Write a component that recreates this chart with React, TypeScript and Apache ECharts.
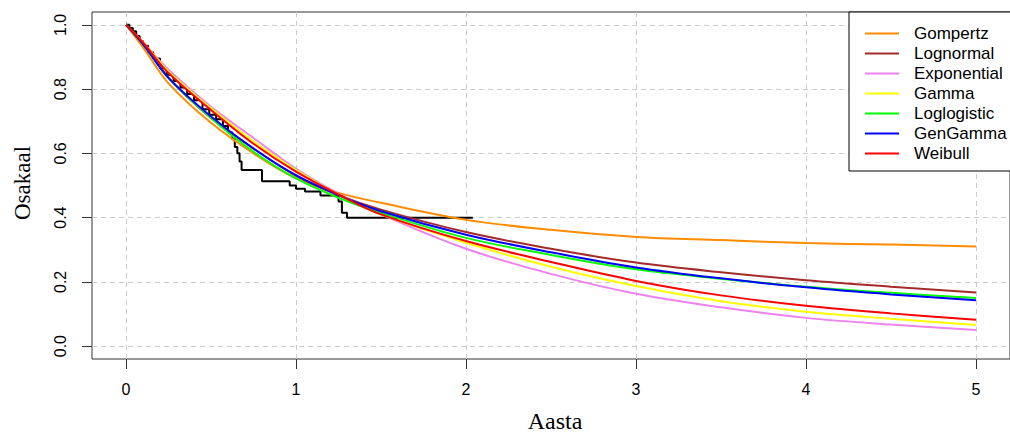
import React, { useEffect, useRef } from "react";
import * as echarts from "echarts";

// Time points (years) at which the fitted curves were read
const fitTimes = [0, 0.1, 0.25, 0.5, 0.75, 1, 1.25, 1.5, 2, 2.5, 3, 3.5, 4, 4.5, 5];

const gompertz = [1, 0.93, 0.818, 0.695, 0.6, 0.522, 0.477, 0.446, 0.393, 0.362, 0.34, 0.33, 0.321, 0.316, 0.31];
const lognormal = [1, 0.945, 0.835, 0.71, 0.615, 0.53, 0.47, 0.425, 0.355, 0.303, 0.26, 0.23, 0.205, 0.185, 0.167];
const exponential = [1, 0.945, 0.86, 0.745, 0.648, 0.552, 0.475, 0.41, 0.303, 0.225, 0.163, 0.121, 0.088, 0.067, 0.05];
const gamma = [1, 0.945, 0.855, 0.74, 0.637, 0.548, 0.472, 0.41, 0.322, 0.247, 0.187, 0.14, 0.107, 0.085, 0.066];
const loglogistic = [1, 0.94, 0.835, 0.71, 0.605, 0.522, 0.462, 0.415, 0.337, 0.284, 0.239, 0.21, 0.185, 0.166, 0.15];
const genGamma = [1, 0.94, 0.835, 0.715, 0.615, 0.532, 0.47, 0.42, 0.347, 0.292, 0.245, 0.211, 0.183, 0.161, 0.143];
const weibull = [1, 0.945, 0.85, 0.735, 0.63, 0.543, 0.472, 0.41, 0.327, 0.262, 0.203, 0.158, 0.126, 0.102, 0.082];

// Kaplan-Meier step curve
const kmTimes = [0, 0.02, 0.04, 0.06, 0.08, 0.1, 0.13, 0.16, 0.2, 0.24, 0.28, 0.32, 0.36, 0.4, 0.45, 0.49, 0.53, 0.57, 0.6, 0.626, 0.64, 0.655, 0.668, 0.68, 0.8, 0.963, 1.0, 1.053, 1.144, 1.25, 1.27, 1.3, 2.04];
const kmSurv = [1, 0.99, 0.98, 0.965, 0.95, 0.935, 0.915, 0.895, 0.865, 0.845, 0.825, 0.805, 0.785, 0.765, 0.737, 0.72, 0.706, 0.685, 0.665, 0.644, 0.62, 0.6, 0.575, 0.548, 0.513, 0.5, 0.49, 0.481, 0.469, 0.45, 0.415, 0.4, 0.4];

const xTicks = [0, 1, 2, 3, 4, 5];
const yTicks = [0, 0.2, 0.4, 0.6, 0.8, 1.0];

const modelNames = ["Gompertz", "Lognormal", "Exponential", "Gamma", "Loglogistic", "GenGamma", "Weibull"];
const modelValues = [gompertz, lognormal, exponential, gamma, loglogistic, genGamma, weibull];
const modelColors = ["#FF8C00", "#A52A2A", "#EE82EE", "#FFFF00", "#00FF00", "#0000FF", "#FF0000"];

const SANS = '"Liberation Sans", Arial, sans-serif';
const SERIF = '"Liberation Serif", "Times New Roman", serif';

export default function App() {
  const ref = useRef<HTMLDivElement>(null);

  useEffect(() => {
    document.body.style.margin = "0";
    if (!ref.current) return;
    const chart = echarts.init(ref.current, null, { renderer: "svg" });

    const kmSeries = {
      name: "KM",
      type: "line",
      step: "end",
      showSymbol: false,
      symbol: "none",
      data: kmTimes.map((t, i) => [t, kmSurv[i]]),
      lineStyle: { color: "#000", width: 2 },
      itemStyle: { color: "#000" },
      silent: true,
      z: 2,
    };

    const fitSeries = modelNames.map((name, k) => ({
      name,
      type: "line",
      showSymbol: false,
      symbol: "none",
      smooth: 0.35,
      data: fitTimes.map((t, i) => [t, modelValues[k][i]]),
      lineStyle: { color: modelColors[k], width: 2 },
      itemStyle: { color: modelColors[k] },
      silent: true,
      z: 3,
    }));

    chart.setOption({
      animation: false,
      grid: {
        left: 92,
        top: 12,
        width: 923,
        height: 347,
        show: true,
        borderColor: "#333",
        borderWidth: 1,
        backgroundColor: "transparent",
      },
      xAxis: {
        type: "value",
        min: -0.2,
        max: 5.2,
        axisLine: { show: false, onZero: false },
        axisTick: { show: true, length: 10, customValues: xTicks, lineStyle: { color: "#333" } },
        axisLabel: {
          customValues: xTicks,
          fontSize: 16,
          fontFamily: SANS,
          color: "#000",
          margin: 22,
        },
        splitLine: { show: true, lineStyle: { color: "#cccccc", type: [5, 4], width: 1 } },
      },
      yAxis: {
        type: "value",
        min: -0.04,
        max: 1.04,
        axisLine: { show: false, onZero: false },
        axisTick: { show: true, length: 10, customValues: yTicks, lineStyle: { color: "#333" } },
        axisLabel: {
          customValues: yTicks,
          rotate: 90,
          fontSize: 16,
          fontFamily: SANS,
          color: "#000",
          margin: 24,
          formatter: (v: number) => v.toFixed(1),
        },
        splitLine: { show: true, lineStyle: { color: "#cccccc", type: [5, 4], width: 1 } },
      },
      legend: {
        show: true,
        data: modelNames,
        orient: "vertical",
        left: 849,
        top: 12,
        itemWidth: 34,
        itemHeight: 2,
        icon: "rect",
        itemGap: 3,
        padding: [13, 40, 9, 16],
        borderColor: "#000",
        borderWidth: 1,
        backgroundColor: "#fff",
        selectedMode: false,
        textStyle: {
          fontSize: 17,
          fontFamily: SANS,
          color: "#000",
          lineHeight: 17,
          padding: [0, 0, 0, 10],
        },
      },
      graphic: [
        {
          type: "text",
          x: 555,
          y: 421,
          style: {
            text: "Aasta",
            font: `24px ${SERIF}`,
            fill: "#000",
            textAlign: "center",
            textVerticalAlign: "middle",
          },
        },
        {
          type: "text",
          x: 22,
          y: 183,
          rotation: Math.PI / 2,
          style: {
            text: "Osakaal",
            font: `23px ${SERIF}`,
            fill: "#000",
            textAlign: "center",
            textVerticalAlign: "middle",
          },
        },
      ],
      series: [kmSeries, ...fitSeries],
    });

    return () => chart.dispose();
  }, []);

  return <div ref={ref} style={{ width: 1010, height: 433 }} />;
}
